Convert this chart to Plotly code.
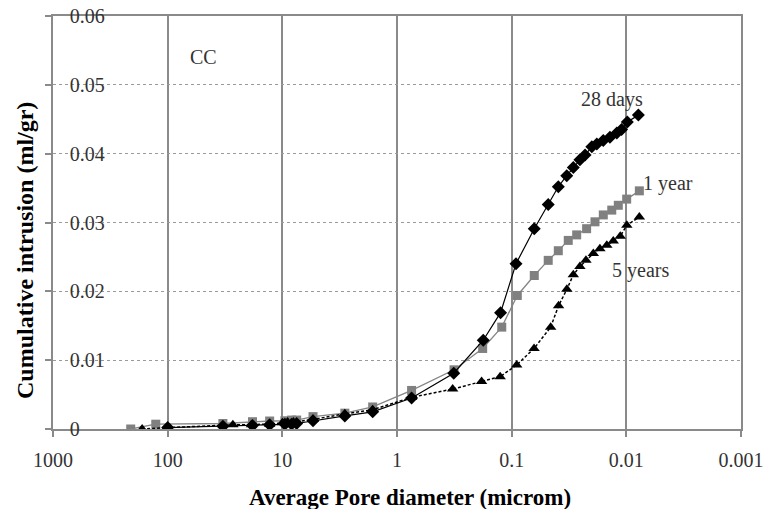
import math
import plotly.graph_objects as go

# Mercury intrusion porosimetry, CC mix: pore diameter (microm) vs cumulative intrusion (ml/gr)
diam_28d = [100, 33, 18.2, 12.9, 9.5, 8.3, 7.5, 5.4, 2.85, 1.63, 0.746, 0.32, 0.177, 0.125,
            0.0917, 0.0635, 0.048, 0.0392, 0.0331, 0.029, 0.0254, 0.0229, 0.020, 0.0181,
            0.0159, 0.0139, 0.0121, 0.011, 0.0098, 0.00785]
intr_28d = [0.0002, 0.0004, 0.0005, 0.0006, 0.0007, 0.0007, 0.0008, 0.0012, 0.0019, 0.0025,
            0.0045, 0.0081, 0.0129, 0.0169, 0.0240, 0.0291, 0.0326, 0.0352, 0.0368, 0.0380,
            0.0391, 0.0398, 0.0410, 0.0414, 0.0419, 0.0424, 0.0430, 0.0435, 0.0446, 0.0456]

diam_1y = [210, 127, 33, 18.2, 12.9, 9.5, 8.3, 7.5, 5.4, 2.85, 1.63, 0.746, 0.318, 0.179,
           0.122, 0.0893, 0.0635, 0.048, 0.0392, 0.0321, 0.0271, 0.0222, 0.01877, 0.01588,
           0.0134, 0.01175, 0.00993, 0.0077]
intr_1y = [0.0000, 0.0007, 0.0008, 0.00106, 0.00116, 0.0012, 0.0013, 0.0013, 0.0018, 0.0023,
           0.0032, 0.0056, 0.0086, 0.0117, 0.0148, 0.0194, 0.0223, 0.0245, 0.0259, 0.0274,
           0.0282, 0.0291, 0.0301, 0.0311, 0.0318, 0.0325, 0.0334, 0.0346]

diam_5y = [167, 100, 27, 18.6, 12.9, 10, 9, 8, 5.4, 2.85, 1.63, 0.746, 0.327, 0.183, 0.126,
           0.0904, 0.0638, 0.0457, 0.039, 0.033, 0.029, 0.0254, 0.0225, 0.0194, 0.017,
           0.0148, 0.013, 0.0113, 0.0099, 0.0077]
intr_5y = [0.0000, 0.0002, 0.0006, 0.0006, 0.0007, 0.0009, 0.0010, 0.0010, 0.0014, 0.0022,
           0.0028, 0.0046, 0.0058, 0.0069, 0.0076, 0.0093, 0.0117, 0.0148, 0.0179, 0.0203,
           0.0224, 0.0236, 0.0245, 0.0255, 0.0262, 0.0267, 0.0273, 0.0280, 0.0296, 0.0308]

x_ticks = [1000, 100, 10, 1, 0.1, 0.01, 0.001]
x_tick_text = ["1000", "100", "10", "1", "0.1", "0.01", "0.001"]
y_ticks = [0, 0.01, 0.02, 0.03, 0.04, 0.05, 0.06]
y_tick_text = ["0", "0.01", "0.02", "0.03", "0.04", "0.05", "0.06"]

# curve labels: (text, diameter, intrusion)
curve_labels = [("28 days", 0.01334, 0.0479), ("1 year", 0.00432, 0.0357),
                ("5 years", 0.0076, 0.0231), ("CC", 48.4, 0.0540)]

SERIF = "Liberation Serif, Times New Roman, serif"

fig = go.Figure()
fig.add_trace(go.Scatter(
    x=diam_1y, y=intr_1y, mode="lines+markers", name="1 year",
    line=dict(color="#858585", width=1.3),
    marker=dict(symbol="square", size=9, color="#808080")))
fig.add_trace(go.Scatter(
    x=diam_5y, y=intr_5y, mode="lines+markers", name="5 years",
    line=dict(color="#000000", width=1.5, dash="3px,2px"),
    marker=dict(symbol="triangle-up", size=10, color="#000000")))
fig.add_trace(go.Scatter(
    x=diam_28d, y=intr_28d, mode="lines+markers", name="28 days",
    line=dict(color="#000000", width=1.2),
    marker=dict(symbol="diamond", size=10, color="#000000")))

for text, xd, yv in curve_labels:
    fig.add_annotation(x=math.log10(xd), y=yv, text=text, showarrow=False,
                       xanchor="center", yanchor="middle",
                       font=dict(family=SERIF, size=20, color="#333333"))

fig.add_annotation(xref="paper", yref="paper", x=0.519, y=-0.165,
                   text="<b>Average Pore diameter (microm)</b>", showarrow=False,
                   xanchor="center", yanchor="middle",
                   font=dict(family=SERIF, size=23, color="#000000"))
fig.add_annotation(xref="paper", yref="paper", x=-0.041, y=0.433,
                   text="<b>Cumulative intrusion (ml/gr)</b>", showarrow=False,
                   textangle=-90, xanchor="center", yanchor="middle",
                   font=dict(family=SERIF, size=24, color="#000000"))

fig.update_layout(
    width=766, height=509,
    margin=dict(l=53, r=25, t=16, b=80, autoexpand=False),
    paper_bgcolor="white", plot_bgcolor="white",
    showlegend=False,
    font=dict(family=SERIF, size=20, color="#333333"),
    xaxis=dict(
        type="log", range=[3, -3], tickvals=x_ticks, ticktext=x_tick_text,
        showgrid=True, gridcolor="#8a8a8a", gridwidth=1.5,
        showline=True, linecolor="#8a8a8a", linewidth=1.5, mirror=True,
        ticks="outside", ticklen=6, tickcolor="#8a8a8a", tickwidth=1.5,
        tickfont=dict(family=SERIF, size=20, color="#333333"),
        ticklabelstandoff=6, ticklabeloverflow="allow", automargin=False,
        zeroline=False),
    yaxis=dict(
        range=[0, 0.06], tickvals=y_ticks, ticktext=y_tick_text,
        showgrid=True, gridcolor="#9a9a9a", gridwidth=1, griddash="dot",
        showline=True, linecolor="#8a8a8a", linewidth=1.5, mirror=True,
        ticks="outside", ticklen=6, tickcolor="#8a8a8a", tickwidth=1.5,
        ticklabelposition="inside", ticklabelstandoff=18,
        ticklabeloverflow="allow", automargin=False,
        tickfont=dict(family=SERIF, size=20, color="#333333"),
        zeroline=False),
)

fig.write_html("out.html")
